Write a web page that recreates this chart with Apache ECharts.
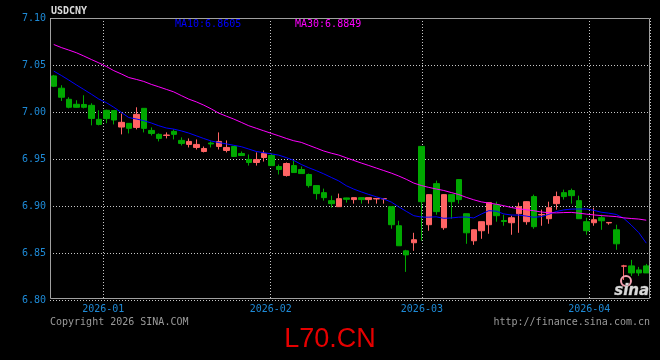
<!DOCTYPE html>
<html>
<head>
<meta charset="utf-8">
<script src="https://cdn.jsdelivr.net/npm/echarts@6/dist/echarts.min.js"></script>
<style>
html,body{margin:0;padding:0;background:#000;}
#c{width:660px;height:360px;}
</style>
</head>
<body>
<div id="c"></div>
<script>
// ---------- data ----------
var dates = [
 '2025-12-22','2025-12-23','2025-12-24','2025-12-25','2025-12-26','2025-12-29','2025-12-30','2025-12-31',
 '2026-01-01','2026-01-02','2026-01-05','2026-01-06','2026-01-07','2026-01-08','2026-01-09','2026-01-12',
 '2026-01-13','2026-01-14','2026-01-15','2026-01-16','2026-01-19','2026-01-20','2026-01-21','2026-01-22',
 '2026-01-23','2026-01-26','2026-01-27','2026-01-28','2026-01-29','2026-01-30',
 '2026-02-02','2026-02-03','2026-02-04','2026-02-05','2026-02-06','2026-02-09','2026-02-10','2026-02-11',
 '2026-02-12','2026-02-13','2026-02-16','2026-02-17','2026-02-18','2026-02-19','2026-02-20','2026-02-23',
 '2026-02-24','2026-02-25','2026-02-26','2026-02-27',
 '2026-03-02','2026-03-03','2026-03-04','2026-03-05','2026-03-06','2026-03-09','2026-03-10','2026-03-11',
 '2026-03-12','2026-03-13','2026-03-16','2026-03-17','2026-03-18','2026-03-19','2026-03-20','2026-03-23',
 '2026-03-24','2026-03-25','2026-03-26','2026-03-27','2026-03-30','2026-03-31',
 '2026-04-01','2026-04-02','2026-04-03','2026-04-06','2026-04-07','2026-04-08','2026-04-09','2026-04-10'
];
var opens = [
 7.0384,7.0253,7.0135,7.0082,7.0080,7.0071,6.9922,7.0018,7.0015,6.9840,
 6.9879,6.9836,7.0039,6.9804,6.9762,6.9751,6.9794,6.9698,6.9655,6.9623,
 6.9580,6.9670,6.9633,6.9591,6.9633,6.9559,6.9495,6.9463,6.9516,6.9537,
 6.9420,6.9324,6.9430,6.9388,6.9335,6.9217,6.9142,6.9057,6.8993,6.9086,
 6.9068,6.9089,6.9068,6.9075,6.9075,6.8993,6.8790,6.8523,6.8609,6.9634,
 6.8801,6.9238,6.8769,6.9121,6.9281,6.8918,6.8630,6.8737,6.8801,6.9014,
 6.8845,6.8822,6.8918,6.8833,6.9100,6.8905,6.8865,6.9025,6.9142,6.9164,
 6.9057,6.8833,6.8822,6.8875,6.8820,6.8747,6.8360,6.8363,6.8320,6.8363
];
var closes = [
 7.0274,7.0157,7.0050,7.0050,7.0050,6.9932,6.9868,6.9930,6.9915,6.9890,
 6.9826,6.9975,6.9826,6.9772,6.9719,6.9755,6.9762,6.9666,6.9687,6.9655,
 6.9612,6.9660,6.9687,6.9623,6.9527,6.9537,6.9463,6.9495,6.9559,6.9430,
 6.9388,6.9452,6.9356,6.9345,6.9217,6.9132,6.9089,6.9025,6.9078,6.9071,
 6.9089,6.9068,6.9089,6.9080,6.9078,6.8801,6.8577,6.8480,6.8641,6.9046,
 6.9121,6.8940,6.9121,6.9046,6.9068,6.8715,6.8747,6.8833,6.9036,6.8897,
 6.8835,6.8875,6.8993,6.9046,6.8780,6.8910,6.8982,6.9100,6.9100,6.9110,
 6.8865,6.8737,6.8854,6.8843,6.8825,6.8598,6.8363,6.8288,6.8288,6.8288
];
var lows = [
 7.0265,7.0117,7.0039,7.0045,7.0039,6.9858,6.9858,6.9880,6.9868,6.9762,
 6.9772,6.9815,6.9783,6.9750,6.9687,6.9719,6.9708,6.9644,6.9623,6.9601,
 6.9570,6.9623,6.9601,6.9570,6.9527,6.9535,6.9430,6.9430,6.9473,6.9430,
 6.9335,6.9313,6.9356,6.9345,6.9196,6.9068,6.9057,6.8982,6.8990,6.9036,
 6.9025,6.9025,6.9025,6.9025,6.9025,6.8758,6.8577,6.8299,6.8523,6.8630,
 6.8737,6.8907,6.8747,6.8865,6.9025,6.8598,6.8587,6.8651,6.8705,6.8833,
 6.8790,6.8694,6.8715,6.8801,6.8758,6.8790,6.8811,6.8961,6.9068,6.9025,
 6.8865,6.8694,6.8790,6.8747,6.8801,6.8534,6.8213,6.8256,6.8256,6.8288
];
var highs = [
 7.0395,7.0285,7.0157,7.0125,7.0178,7.0093,7.0018,7.0025,7.0018,6.9983,
 6.9880,7.0050,7.0040,6.9836,6.9772,6.9783,6.9815,6.9730,6.9719,6.9708,
 6.9633,6.9687,6.9783,6.9698,6.9635,6.9580,6.9548,6.9570,6.9591,6.9559,
 6.9441,6.9463,6.9484,6.9420,6.9345,6.9220,6.9185,6.9110,6.9132,6.9088,
 6.9090,6.9090,6.9090,6.9085,6.9080,6.8995,6.8843,6.8534,6.8715,6.9635,
 6.9125,6.9270,6.9125,6.9125,6.9285,6.8920,6.8750,6.8835,6.9040,6.9046,
 6.8907,6.8897,6.9036,6.9050,6.9121,6.8961,6.9046,6.9153,6.9174,6.9185,
 6.9110,6.8875,6.8982,6.8907,6.8825,6.8801,6.8374,6.8427,6.8352,6.8384
];
var ma10 = [
 7.0435,7.0389,7.0340,7.0289,7.0240,7.0190,7.0138,7.0100,7.0051,6.9996,
 6.9941,6.9926,6.9908,6.9883,6.9854,6.9830,6.9818,6.9799,6.9776,6.9747,
 6.9718,6.9691,6.9675,6.9661,6.9646,6.9631,6.9606,6.9580,6.9567,6.9555,
 6.9541,6.9515,6.9485,6.9442,6.9407,6.9376,6.9342,6.9304,6.9267,6.9216,
 6.9180,6.9150,6.9123,6.9098,6.9074,6.9042,6.8991,6.8943,6.8897,6.8882,
 6.8881,6.8885,6.8869,6.8873,6.8881,6.8883,6.8873,6.8914,6.8950,6.8945,
 6.8916,6.8904,6.8903,6.8893,6.8880,6.8887,6.8911,6.8941,6.8958,6.8967,
 6.8968,6.8968,6.8954,6.8934,6.8924,6.8910,6.8869,6.8797,6.8717,6.8605
];
var ma30 = [
 7.0718,7.0686,7.0659,7.0631,7.0596,7.0559,7.0523,7.0485,7.0440,7.0405,
 7.0367,7.0347,7.0325,7.0294,7.0268,7.0241,7.0214,7.0175,7.0137,7.0108,
 7.0073,7.0033,6.9988,6.9956,6.9925,6.9890,6.9854,6.9827,6.9800,6.9773,
 6.9747,6.9719,6.9694,6.9677,6.9646,6.9616,6.9585,6.9562,6.9542,6.9513,
 6.9485,6.9457,6.9431,6.9404,6.9377,6.9350,6.9319,6.9284,6.9244,6.9218,
 6.9198,6.9181,6.9165,6.9143,6.9122,6.9092,6.9066,6.9044,6.9031,6.9019,
 6.9003,6.8984,6.8971,6.8960,6.8950,6.8936,6.8929,6.8927,6.8930,6.8932,
 6.8924,6.8914,6.8905,6.8898,6.8893,6.8887,6.8874,6.8867,6.8861,6.8849
];
var yTicks = { min: 6.80, max: 7.10, step: 0.05 };
var timeRange = { start: [2025, 11, 22, 3, 7], end: [2026, 3, 12, 5, 45] };

// ---------- chart ----------
var candles = opens.map(function (o, i) { return [o, closes[i], lows[i], highs[i]]; });
var tStart = new Date(timeRange.start[0], timeRange.start[1], timeRange.start[2], timeRange.start[3], timeRange.start[4]).getTime();
var tEnd = new Date(timeRange.end[0], timeRange.end[1], timeRange.end[2], timeRange.end[3], timeRange.end[4]).getTime();
var DAY = 86400000;
var mono = '"DejaVu Sans Mono", monospace';
var gridLine = { color: '#c8c8c8', width: 1, type: [1, 2] };

var chart = echarts.init(document.getElementById('c'), null, { renderer: 'canvas' });
chart.setOption({
  backgroundColor: '#000',
  animation: false,
  grid: { left: 50, right: 10, top: 18, bottom: 60, containLabel: false },
  xAxis: [
    {
      type: 'category', data: dates, boundaryGap: true, show: false
    },
    {
      type: 'time', min: tStart, max: tEnd, position: 'bottom',
      minInterval: 28 * DAY, maxInterval: 31 * DAY,
      axisLine: { show: false }, axisTick: { show: false },
      axisLabel: { formatter: '{yyyy}-{MM}', color: '#1e8ad6', fontFamily: mono, fontSize: 10, margin: 4, showMinLabel: false, showMaxLabel: false },
      splitLine: { show: true, lineStyle: gridLine }
    }
  ],
  yAxis: {
    type: 'value', min: yTicks.min, max: yTicks.max, interval: yTicks.step, scale: true,
    axisLine: { show: false }, axisTick: { show: false },
    axisLabel: { color: '#1e8ad6', fontFamily: mono, fontSize: 10, margin: 4,
      formatter: function (v) { return v.toFixed(2); } },
    splitLine: { show: true, lineStyle: gridLine }
  },
  series: [
    {
      type: 'candlestick', xAxisIndex: 0, data: candles, barWidth: 6,
      itemStyle: { color: '#ff6464', color0: '#00a800', borderColor: '#ff6464', borderColor0: '#00a800', borderWidth: 1 }
    },
    {
      type: 'line', xAxisIndex: 0, data: ma10, symbol: 'none', smooth: false,
      lineStyle: { color: '#0000ff', width: 1 }, z: 3
    },
    {
      type: 'line', xAxisIndex: 0, data: ma30, symbol: 'none', smooth: false,
      lineStyle: { color: '#ff00ff', width: 1 }, z: 3
    }
  ],
  graphic: [
    { type: 'rect', shape: { x: 50.5, y: 18.5, width: 599, height: 280 }, style: { fill: null, stroke: '#a0a0a0', lineWidth: 1 }, z: 10, silent: true },
    { type: 'text', left: 51, top: 6, style: { text: 'USDCNY', fill: '#dcdcdc', font: 'bold 10px ' + mono }, z: 10 },
    { type: 'text', left: 175, top: 19, style: { text: 'MA10:' + ma10[ma10.length - 1].toFixed(4), fill: '#0000ff', font: '10px ' + mono }, z: 10 },
    { type: 'text', left: 295, top: 19, style: { text: 'MA30:' + ma30[ma30.length - 1].toFixed(4), fill: '#ff00ff', font: '10px ' + mono }, z: 10 },
    { type: 'text', left: 50, top: 317, style: { text: 'Copyright 2026 SINA.COM', fill: '#9a9a9a', font: '10px ' + mono }, z: 10 },
    { type: 'text', right: 10, top: 317, style: { text: 'http://finance.sina.com.cn', fill: '#9a9a9a', font: '10px ' + mono }, z: 10 },
    { type: 'text', left: 'center', top: 326, style: { text: 'L70.CN', fill: '#e60000', font: '27px "Liberation Sans", Arial, sans-serif' }, z: 10 },
    { type: 'circle', shape: { cx: 626, cy: 281, r: 5 }, style: { fill: null, stroke: '#f4a0b0', lineWidth: 2 }, z: 10 },
    { type: 'text', left: 614, top: 283, style: { text: 'sina', fill: '#d8d8d8', stroke: '#888', lineWidth: 0.5, font: 'italic bold 15px "DejaVu Sans", sans-serif' }, z: 10 }
  ]
});
</script>
</body>
</html>
